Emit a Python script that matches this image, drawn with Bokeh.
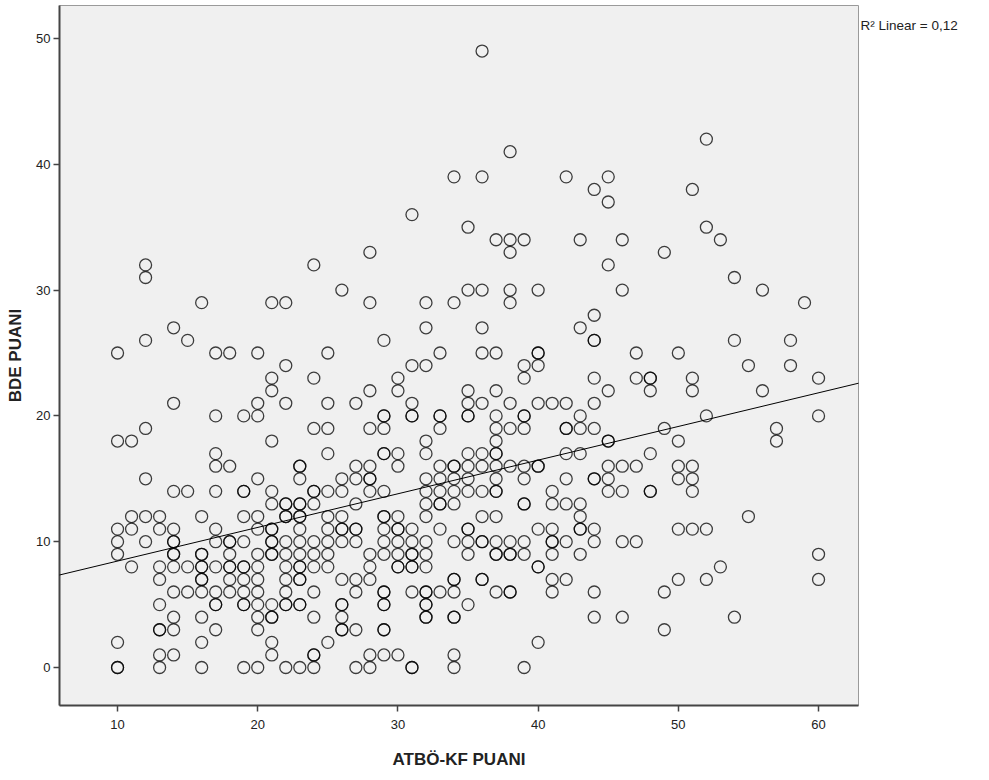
from bokeh.plotting import figure
from bokeh.models import Range1d, FixedTicker, Slope, Label, ColumnDataSource
from bokeh.layouts import row
from bokeh.embed import file_html
from bokeh.resources import INLINE
import numpy as np

# ATBÖ-KF PUANI value and the BDE PUANI values observed at that score
score_x = list(range(10, 61))
bde_lists = [
    [25, 18, 11, 10, 9, 2, 0, 0],                                   # 10
    [18, 12, 11, 8],                                                # 11
    [32, 31, 26, 19, 15, 12, 10],                                   # 12
    [12, 11, 8, 7, 5, 3, 3, 1, 0],                                  # 13
    [27, 21, 14, 11, 10, 10, 9, 9, 8, 6, 4, 3, 1],                  # 14
    [26, 14, 8, 6],                                                 # 15
    [29, 12, 9, 9, 8, 8, 7, 7, 6, 4, 2, 0],                         # 16
    [25, 20, 17, 16, 14, 11, 10, 8, 6, 5, 5, 3],                    # 17
    [25, 16, 10, 10, 9, 8, 8, 7, 6],                                # 18
    [20, 14, 14, 12, 10, 8, 8, 7, 6, 5, 5, 0],                      # 19
    [25, 21, 20, 15, 12, 11, 9, 8, 7, 6, 5, 4, 3, 0],               # 20
    [29, 23, 22, 18, 14, 13, 11, 11, 10, 10, 9, 9, 5, 4, 4, 2, 1],  # 21
    [29, 24, 21, 13, 13, 12, 12, 10, 9, 8, 7, 6, 5, 5, 0],          # 22
    [16, 16, 15, 13, 13, 12, 12, 11, 10, 9, 8, 8, 7, 7, 5, 5, 0],   # 23
    [32, 23, 19, 14, 14, 13, 10, 9, 8, 6, 4, 1, 1, 0],              # 24
    [25, 21, 19, 17, 14, 12, 11, 10, 9, 8, 2],                      # 25
    [30, 15, 14, 12, 11, 11, 10, 7, 5, 5, 4, 3, 3],                 # 26
    [21, 16, 15, 13, 11, 11, 10, 7, 6, 3, 0],                       # 27
    [33, 29, 22, 19, 16, 15, 15, 14, 9, 8, 7, 1, 0],                # 28
    [26, 20, 20, 19, 17, 17, 14, 12, 12, 11, 10, 9, 6, 6, 5, 5, 3, 3, 1],  # 29
    [23, 22, 17, 16, 12, 11, 11, 10, 9, 8, 8, 1],                   # 30
    [36, 24, 21, 20, 20, 11, 10, 9, 9, 8, 8, 6, 0, 0],              # 31
    [29, 27, 24, 18, 17, 15, 14, 13, 12, 10, 9, 8, 6, 6, 5, 5, 4, 4],  # 32
    [25, 20, 20, 19, 16, 15, 14, 13, 13, 11, 6],                    # 33
    [39, 29, 16, 16, 15, 14, 13, 10, 7, 7, 6, 4, 4, 1, 0],          # 34
    [35, 30, 22, 21, 20, 20, 17, 16, 15, 14, 11, 11, 10, 9, 5],     # 35
    [49, 39, 30, 27, 25, 21, 17, 16, 14, 12, 10, 10, 7, 7],         # 36
    [34, 25, 22, 20, 19, 18, 17, 17, 16, 15, 14, 14, 12, 10, 9, 9, 6],  # 37
    [41, 34, 33, 30, 29, 21, 19, 16, 10, 9, 9, 6, 6],               # 38
    [34, 24, 23, 20, 20, 19, 16, 15, 13, 13, 10, 9, 0],             # 39
    [30, 25, 25, 24, 21, 16, 16, 11, 8, 8, 2],                      # 40
    [21, 14, 13, 11, 10, 10, 9, 7, 6],                              # 41
    [39, 21, 19, 19, 17, 15, 13, 10, 7],                            # 42
    [34, 27, 20, 19, 17, 13, 12, 11, 11, 9],                        # 43
    [38, 28, 26, 26, 23, 21, 19, 15, 15, 11, 10, 6, 4],             # 44
    [39, 37, 32, 22, 18, 18, 16, 15, 14],                           # 45
    [34, 30, 16, 14, 10, 4],                                        # 46
    [25, 23, 16, 10],                                               # 47
    [23, 23, 22, 17, 14, 14],                                       # 48
    [33, 19, 6, 3],                                                 # 49
    [25, 18, 16, 15, 11, 7],                                        # 50
    [38, 23, 22, 16, 15, 14, 11],                                   # 51
    [42, 35, 20, 11, 7],                                            # 52
    [34, 8],                                                        # 53
    [31, 26, 4],                                                    # 54
    [24, 12],                                                       # 55
    [30, 22],                                                       # 56
    [19, 18],                                                       # 57
    [26, 24],                                                       # 58
    [29],                                                           # 59
    [23, 20, 9, 7],                                                 # 60
]
x_ticks = [10, 20, 30, 40, 50, 60]
y_ticks = [0, 10, 20, 30, 40, 50]
x_title = "ATBÖ-KF PUANI"
y_title = "BDE PUANI"
r2_text = "R² Linear = 0,12"

xs, ys = [], []
for sx, lst in zip(score_x, bde_lists):
    for v in lst:
        xs.append(sx)
        ys.append(v)
xs = np.array(xs, dtype=float)
ys = np.array(ys, dtype=float)
slope, intercept = np.polyfit(xs, ys, 1)

FONT = "Liberation Sans"
H = 775

p = figure(frame_width=799, frame_height=700,
           min_border_left=59, min_border_right=1,
           min_border_top=5, min_border_bottom=70,
           x_range=Range1d(5.86, 62.85), y_range=Range1d(-3.02, 52.62),
           output_backend="svg", toolbar_location=None, tools="")
p.background_fill_color = "#f0f0f0"
p.border_fill_color = "white"
p.outline_line_color = "#9a9a9a"
p.outline_line_width = 1
p.xgrid.visible = False
p.ygrid.visible = False

src = ColumnDataSource(data=dict(x=xs, y=ys))
p.scatter("x", "y", source=src, marker="circle", size=12,
          fill_alpha=0, line_color="black", line_alpha=0.75, line_width=1.3)

p.add_layout(Slope(gradient=slope, y_intercept=intercept,
                   line_color="black", line_width=1))

for ax in (p.xaxis[0], p.yaxis[0]):
    ax.axis_line_color = "#444444"
    ax.axis_line_width = 2
    ax.major_tick_line_color = "#444444"
    ax.major_tick_line_width = 1.5
    ax.major_tick_in = 0
    ax.major_tick_out = 6
    ax.minor_tick_line_color = None
    ax.major_label_text_font = FONT
    ax.major_label_text_font_size = "13px"
    ax.major_label_text_color = "#222222"
    ax.axis_label_text_font = FONT
    ax.axis_label_text_font_size = "17px"
    ax.axis_label_text_font_style = "bold"
    ax.axis_label_text_color = "#222222"

p.xaxis.ticker = FixedTicker(ticks=x_ticks)
p.yaxis.ticker = FixedTicker(ticks=y_ticks)
p.xaxis.axis_label = x_title
p.yaxis.axis_label = y_title
p.xaxis.major_label_standoff = 8
p.xaxis.axis_label_standoff = 18
p.yaxis.major_label_standoff = 3
p.yaxis.axis_label_standoff = 8

# side panel holding the fit annotation (pixel-like coordinates)
side = figure(width=120, height=H, x_range=Range1d(0, 120), y_range=Range1d(H, 0),
              x_axis_type=None, y_axis_type=None,
              min_border_left=0, min_border_right=0, min_border_top=0, min_border_bottom=0,
              output_backend="svg", toolbar_location=None, tools="")
side.outline_line_color = None
side.background_fill_color = "white"
side.border_fill_color = "white"
side.grid.visible = False
side.add_layout(Label(x=1, y=22, text=r2_text, text_font=FONT,
                      text_font_size="13.5px", text_color="#222222",
                      text_baseline="middle", text_align="left"))

layout = row(p, side)
open("out.html", "w").write(file_html(layout, INLINE))
